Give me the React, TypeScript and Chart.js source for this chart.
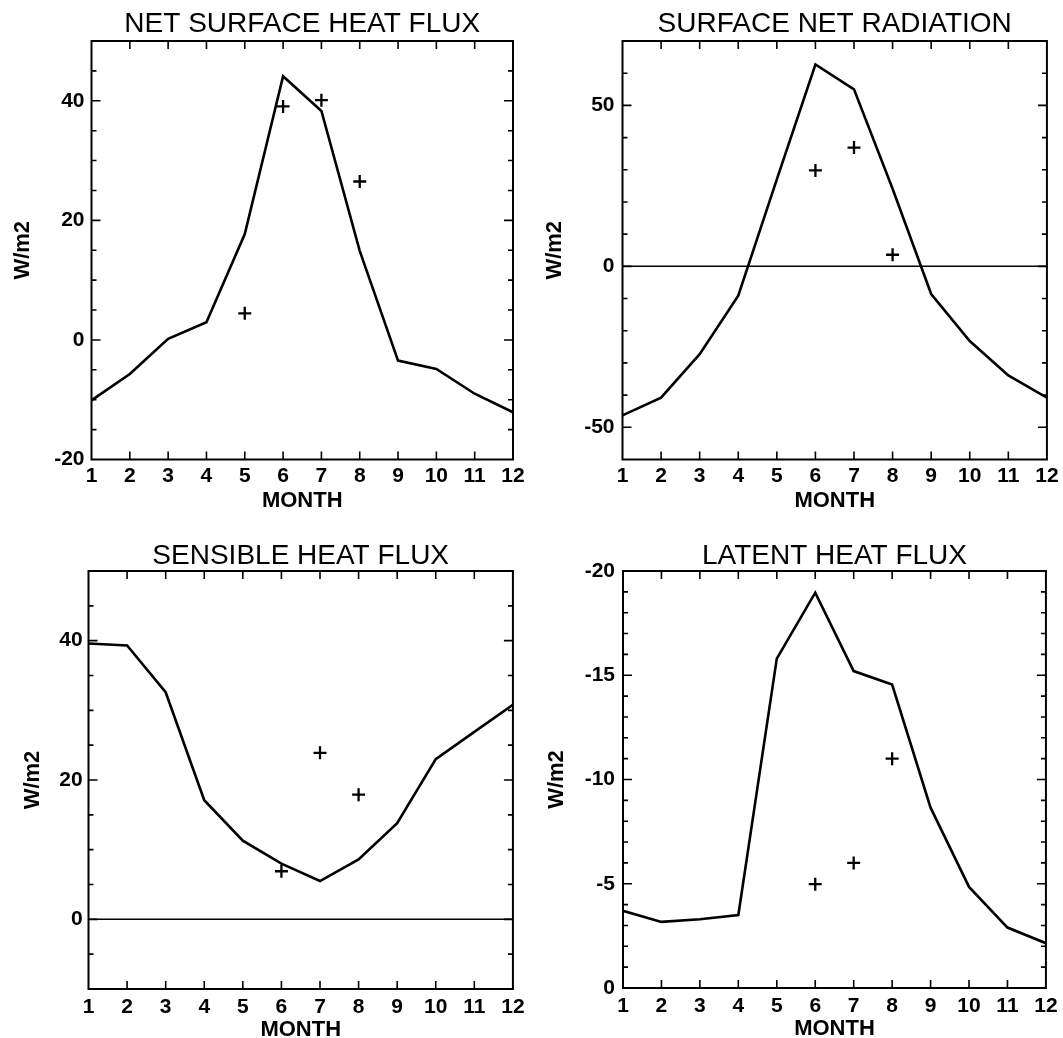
import React, { useEffect, useRef } from 'react';
import { Chart, registerables } from 'chart.js';

Chart.register(...registerables);

const FONT = '"Liberation Sans", Arial, Helvetica, sans-serif';

// ---- data ----
const months = [1, 2, 3, 4, 5, 6, 7, 8, 9, 10, 11, 12];
const monthTicks = [1, 2, 3, 4, 5, 6, 7, 8, 9, 10, 11, 12];

const netFluxModel = [-10.1, -5.7, 0.2, 2.95, 17.7, 44.1, 38.3, 14.9, -3.45, -4.85, -9.0, -12.1];
const netFluxObsMonths = [5, 6, 7, 8];
const netFluxObs = [4.45, 39.05, 40.1, 26.5];
const netFluxYTicks = [-20, 0, 20, 40];

const netRadModel = [-46.3, -40.8, -27.3, -9.1, 27, 62.7, 55.0, 24.1, -8.6, -23.2, -33.9, -40.8];
const netRadObsMonths = [6, 7, 8];
const netRadObs = [29.8, 36.9, 3.6];
const netRadYTicks = [-50, 0, 50];

const sensibleModel = [39.6, 39.3, 32.6, 17.1, 11.3, 8.0, 5.5, 8.6, 13.8, 23.0, 26.9, 30.8];
const sensibleObsMonths = [6, 7, 8];
const sensibleObs = [6.9, 23.9, 17.9];
const sensibleYTicks = [0, 20, 40];

const latentModel = [-3.7, -3.17, -3.3, -3.5, -15.8, -18.96, -15.2, -14.55, -8.65, -4.85, -2.9, -2.15];
const latentObsMonths = [6, 7, 8];
const latentObs = [-4.98, -6.0, -11.0];
const latentYTicks = [-20, -15, -10, -5, 0];

type PanelDef = {
  title: string;
  model: number[];
  obsMonths: number[];
  obs: number[];
  yTicks: number[];
  yMin: number;
  yMax: number;
  minorStep: number;
  reverse: boolean;
  zeroLine: boolean;
  // layout
  x: number;
  y: number;
  w: number;
  h: number;
  boxLeft: number;
  padRight: number;
  xAxisH: number;
  titlePadTop: number;
  titlePadBottom: number;
  yTitlePad: number;
  yTickPad: number;
  xTickPad: number;
  xTitlePad: number;
};

const panels: PanelDef[] = [
  {
    title: 'NET SURFACE HEAT FLUX', model: netFluxModel, obsMonths: netFluxObsMonths, obs: netFluxObs,
    yTicks: netFluxYTicks, yMin: -20, yMax: 50, minorStep: 5, reverse: false, zeroLine: false,
    x: 0, y: 0, w: 530, h: 530, boxLeft: 91.5, padRight: 17, xAxisH: 70.5,
    titlePadTop: 10, titlePadBottom: 3, yTitlePad: 9.3, yTickPad: 7, xTickPad: 4.4, xTitlePad: 16.3,
  },
  {
    title: 'SURFACE NET RADIATION', model: netRadModel, obsMonths: netRadObsMonths, obs: netRadObs,
    yTicks: netRadYTicks, yMin: -60, yMax: 70, minorStep: 10, reverse: false, zeroLine: true,
    x: 530, y: 0, w: 533, h: 530, boxLeft: 92.5, padRight: 14, xAxisH: 70.5,
    titlePadTop: 10, titlePadBottom: 3, yTitlePad: 11.8, yTickPad: 8, xTickPad: 4.4, xTitlePad: 16.3,
  },
  {
    title: 'SENSIBLE HEAT FLUX', model: sensibleModel, obsMonths: sensibleObsMonths, obs: sensibleObs,
    yTicks: sensibleYTicks, yMin: -10, yMax: 50, minorStep: 5, reverse: false, zeroLine: true,
    x: 0, y: 530, w: 530, h: 530, boxLeft: 88.5, padRight: 17, xAxisH: 71,
    titlePadTop: 11.8, titlePadBottom: 1.2, yTitlePad: 19.8, yTickPad: 5.8, xTickPad: 5.4, xTitlePad: 16.8,
  },
  {
    title: 'LATENT HEAT FLUX', model: latentModel, obsMonths: latentObsMonths, obs: latentObs,
    yTicks: latentYTicks, yMin: -20, yMax: 0, minorStep: 1, reverse: true, zeroLine: false,
    x: 530, y: 530, w: 533, h: 530, boxLeft: 93, padRight: 14, xAxisH: 72,
    titlePadTop: 11.8, titlePadBottom: 1.2, yTitlePad: 14.2, yTickPad: 8, xTickPad: 5.4, xTitlePad: 17.8,
  },
];

const framePlugin = {
  id: 'frame',
  afterDraw(chart: any, _args: any, opts: any) {
    const { ctx, chartArea } = chart;
    const { left, right, top, bottom } = chartArea;
    const xs = chart.scales.x;
    const ys = chart.scales.y;
    ctx.save();
    ctx.strokeStyle = '#000';
    ctx.lineWidth = 2;
    ctx.strokeRect(left, top, right - left, bottom - top);
    ctx.lineWidth = 1.6;
    ctx.beginPath();
    for (const m of monthTicks) {
      if (m === monthTicks[0] || m === monthTicks[monthTicks.length - 1]) continue;
      const px = xs.getPixelForValue(m);
      ctx.moveTo(px, bottom);
      ctx.lineTo(px, bottom - 8);
      ctx.moveTo(px, top);
      ctx.lineTo(px, top + 8);
    }
    const n = Math.round((opts.yMax - opts.yMin) / opts.minorStep);
    for (let i = 1; i < n; i++) {
      const v = opts.yMin + i * opts.minorStep;
      const py = ys.getPixelForValue(v);
      const len = opts.majors.includes(v) ? 9 : 5;
      ctx.moveTo(left, py);
      ctx.lineTo(left + len, py);
      ctx.moveTo(right, py);
      ctx.lineTo(right - len, py);
    }
    ctx.stroke();
    ctx.restore();
  },
};

function Panel({ p }: { p: PanelDef }) {
  const ref = useRef<HTMLCanvasElement>(null);
  useEffect(() => {
    const datasets: any[] = [
      {
        data: months.map((m, i) => ({ x: m, y: p.model[i] })),
        borderColor: '#000',
        borderWidth: 2.6,
        pointRadius: 0,
        pointHoverRadius: 0,
        tension: 0,
        fill: false,
      },
      {
        data: p.obsMonths.map((m, i) => ({ x: m, y: p.obs[i] })),
        showLine: false,
        pointStyle: 'cross',
        pointRadius: 6.5,
        pointHoverRadius: 6.5,
        pointBorderWidth: 2.3,
        borderColor: '#000',
        backgroundColor: '#000',
        clip: false,
      },
    ];
    if (p.zeroLine) {
      datasets.push({
        data: [
          { x: months[0], y: 0 },
          { x: months[months.length - 1], y: 0 },
        ],
        borderColor: '#000',
        borderWidth: 1.5,
        pointRadius: 0,
        pointHoverRadius: 0,
        fill: false,
      });
    }
    const chart = new Chart(ref.current as HTMLCanvasElement, {
      type: 'line',
      data: { datasets },
      options: {
        animation: false,
        responsive: false,
        events: [],
        layout: { padding: { left: 0, right: p.padRight, top: 0, bottom: 0 } },
        plugins: {
          legend: { display: false },
          tooltip: { enabled: false },
          title: {
            display: true,
            text: p.title,
            fullSize: false,
            color: '#000',
            font: { family: FONT, size: 28, weight: 'normal', lineHeight: 1 },
            padding: { top: p.titlePadTop, bottom: p.titlePadBottom },
          },
          frame: { yMin: p.yMin, yMax: p.yMax, minorStep: p.minorStep, majors: p.yTicks },
        } as any,
        scales: {
          x: {
            type: 'linear',
            min: months[0],
            max: months[months.length - 1],
            afterBuildTicks: (s: any) => {
              s.ticks = monthTicks.map((v) => ({ value: v }));
            },
            afterFit: (s: any) => {
              s.height = p.xAxisH;
            },
            grid: { display: false, drawTicks: false },
            border: { display: false },
            ticks: {
              autoSkip: false,
              maxRotation: 0,
              minRotation: 0,
              color: '#000',
              padding: p.xTickPad,
              font: { family: FONT, size: 21, weight: 'bold' },
            },
            title: {
              display: true,
              text: 'MONTH',
              color: '#000',
              font: { family: FONT, size: 22, weight: 'bold' },
              padding: { top: 0, bottom: p.xTitlePad },
            },
          },
          y: {
            type: 'linear',
            min: p.yMin,
            max: p.yMax,
            reverse: p.reverse,
            afterBuildTicks: (s: any) => {
              s.ticks = p.yTicks.map((v) => ({ value: v }));
            },
            afterFit: (s: any) => {
              s.width = p.boxLeft;
            },
            grid: { display: false, drawTicks: false },
            border: { display: false },
            ticks: {
              color: '#000',
              padding: p.yTickPad,
              font: { family: FONT, size: 21, weight: 'bold' },
            },
            title: {
              display: true,
              text: 'W/m2',
              color: '#000',
              font: { family: FONT, size: 22, weight: 'bold' },
              padding: { top: p.yTitlePad, bottom: 0 },
            },
          },
        },
      } as any,
      plugins: [framePlugin],
    });
    return () => chart.destroy();
  }, [p]);
  return (
    <canvas
      ref={ref}
      width={p.w}
      height={p.h}
      style={{ position: 'absolute', left: p.x, top: p.y, width: p.w, height: p.h }}
    />
  );
}

export default function App() {
  useEffect(() => {
    document.body.style.margin = '0';
    document.body.style.background = '#fff';
  }, []);
  return (
    <div
      style={{
        position: 'fixed',
        left: 0,
        top: 0,
        width: 1063,
        height: 1038,
        overflow: 'hidden',
        background: '#fff',
      }}
    >
      {panels.map((p) => (
        <Panel key={p.title} p={p} />
      ))}
    </div>
  );
}
